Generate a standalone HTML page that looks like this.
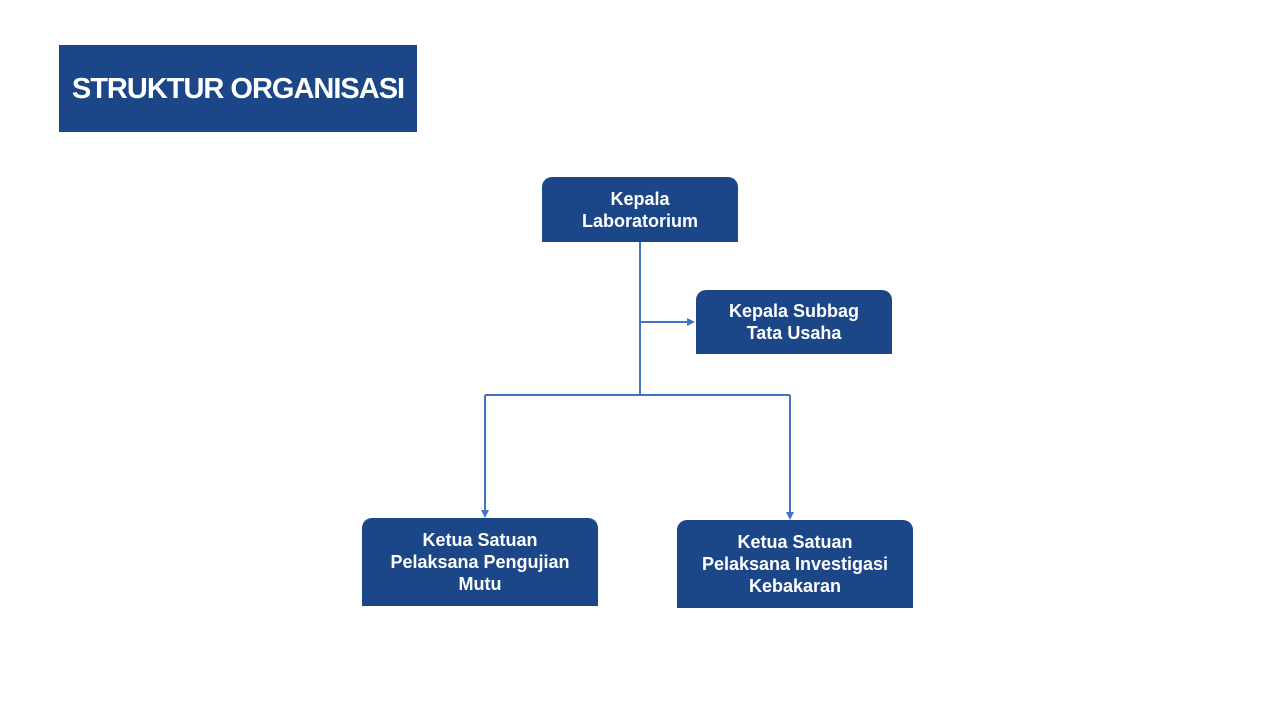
<!DOCTYPE html>
<html><head><meta charset="utf-8"><style>
body{margin:0;width:1280px;height:720px;background:#fff;position:relative;overflow:hidden;font-family:"Liberation Sans",sans-serif}
.b{position:absolute;background:#1b4688;color:#fff;font-weight:bold;text-align:center;display:flex;align-items:center;justify-content:center;border-radius:10px 10px 0 0;font-size:18px;line-height:22px}
</style></head><body>
<div class="b" style="left:59px;top:45px;width:358px;height:87px;border-radius:0;font-size:29px;letter-spacing:-1px">STRUKTUR ORGANISASI</div>
<div class="b" style="left:542px;top:177px;width:196px;height:65px">Kepala<br>Laboratorium</div>
<div class="b" style="left:696px;top:290px;width:196px;height:64px">Kepala Subbag<br>Tata Usaha</div>
<div class="b" style="left:362px;top:518px;width:236px;height:88px">Ketua Satuan<br>Pelaksana Pengujian<br>Mutu</div>
<div class="b" style="left:677px;top:520px;width:236px;height:88px">Ketua Satuan<br>Pelaksana Investigasi<br>Kebakaran</div>
<svg width="1280" height="720" style="position:absolute;left:0;top:0">
<g stroke="#4472c4" stroke-width="2" fill="none">
<path d="M640 242V395M640 322H688M485 395H790M485 395V510M790 395V512"/>
</g>
<g fill="#4472c4">
<path d="M695 322l-8-4v8z"/><path d="M485 518l-4-8h8z"/><path d="M790 520l-4-8h8z"/>
</g>
</svg>
</body></html>
